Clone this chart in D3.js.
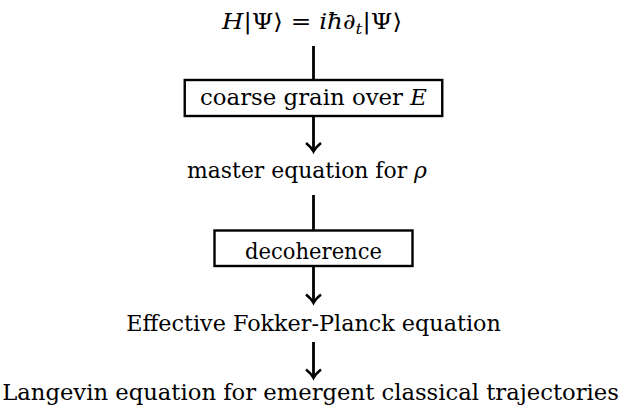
<!DOCTYPE html>
<html><head><meta charset="utf-8">
<script src="https://cdn.jsdelivr.net/npm/d3@7"></script>
<style>
html,body{margin:0;padding:0;background:#fff;}
svg{display:block;}
</style>
</head><body>
<svg id="c" width="621" height="414"></svg>
<script>
// ---- data ----
const steps = ["schrodinger","coarse","master","decoherence","fokker","langevin"];
const kinds = ["text","box","text","box","text","text"];
const labels = [
  [["H",1],["|Ψ⟩ = ",0],["iħ",1],["∂",1],["t",1,"sub"],["|Ψ⟩",0]],
  [["coarse grain over ",0],["E",1]],
  [["master equation for ",0],["ρ",1]],
  [["decoherence",0]],
  [["Effective Fokker-Planck equation",0]],
  [["Langevin equation for emergent classical trajectories",0]]
];
const textWidths = [180, 227, 240, 137, 375, 617];
const boxWidths = [0, 257.5, 0, 198, 0, 0];
// connectors between consecutive steps: "line" (into a box) or "arrow"
const connectors = ["line","arrow","line","arrow","arrow"];

// ---- layout ----
const svg = d3.select("#c");
const cx = 313.5;
const baseline = d3.scaleOrdinal().domain(steps).range([29, 105, 178, 259, 331, 400]);
const boxTop = d3.scaleOrdinal().domain(steps).range([0, 80, 0, 230.5, 0, 0]);
const boxBottom = d3.scaleOrdinal().domain(steps).range([0, 116, 0, 266, 0, 0]);
const centers = [312, 313.5, 307, 313.5, 313.5, 310.5];
const connStart = [46, 116, 195, 266.5, 342];
const connEnd = [80, 151.5, 230.5, 303, 378];

const fs = 22;

steps.forEach((s, i) => {
  if (kinds[i] === "box") {
    svg.append("rect")
      .attr("x", cx - boxWidths[i] / 2)
      .attr("y", boxTop(s))
      .attr("width", boxWidths[i])
      .attr("height", boxBottom(s) - boxTop(s))
      .attr("fill", "#fff")
      .attr("stroke", "#000")
      .attr("stroke-width", 2.4);
  }
  const g = svg.append("g");
  const t = g.append("text")
    .attr("x", 0).attr("y", 0)
    .attr("text-anchor", "middle")
    .style("font-family", "'DejaVu Serif',serif")
    .style("font-size", fs + "px")
    .attr("fill", "#000");
  labels[i].forEach((p, j) => {
    const ts = t.append("tspan").text(p[0]);
    if (p[1]) ts.style("font-style", "italic");
    if (p[2] === "sub") ts.style("font-size", (fs * 0.7) + "px").attr("dy", 5);
    const prev = j > 0 ? labels[i][j - 1] : null;
    if (prev && prev[2] === "sub") ts.attr("dy", -5);
  });
  const w = t.node().getComputedTextLength();
  const sx = textWidths[i] / w;
  g.attr("transform", `translate(${centers[i]},${baseline(s)}) scale(${sx},1)`);
});

connectors.forEach((c, i) => {
  const y0 = connStart[i], y1 = connEnd[i];
  svg.append("line")
    .attr("x1", cx).attr("x2", cx)
    .attr("y1", y0).attr("y2", c === "line" ? y1 : y1 - 1)
    .attr("stroke", "#000").attr("stroke-width", 2.8);
  if (c === "arrow") {
    svg.append("path")
      .attr("d", `M${cx - 7.5},${y1 - 8.5} Q${cx - 2},${y1 - 4} ${cx},${y1} Q${cx + 2},${y1 - 4} ${cx + 7.5},${y1 - 8.5}`)
      .attr("fill", "none")
      .attr("stroke", "#000").attr("stroke-width", 2.4);
  }
});
</script>
</body></html>
